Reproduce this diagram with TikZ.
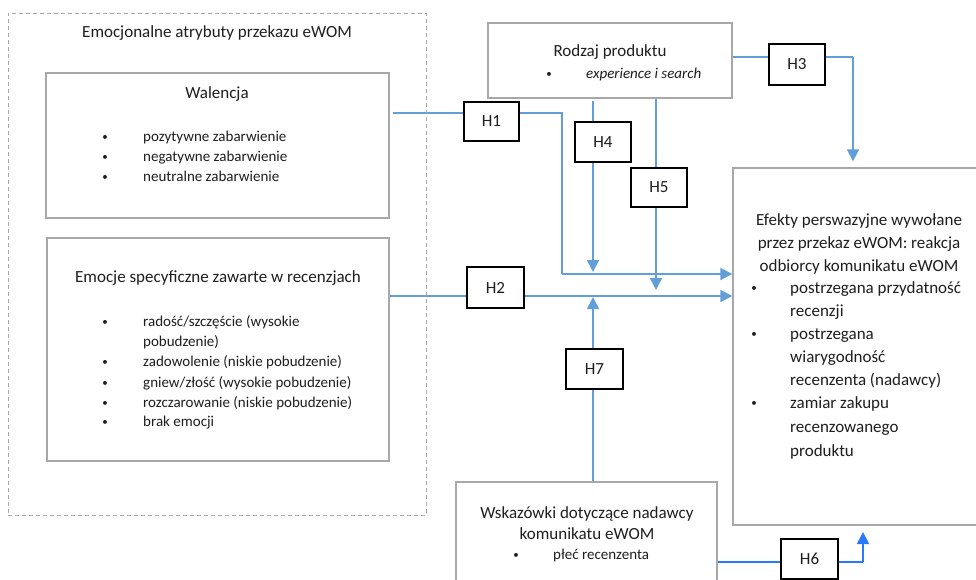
\documentclass[tikz,border=0pt]{standalone}
\usepackage{fontspec}
\setmainfont{Carlito}
\usetikzlibrary{arrows.meta,backgrounds,calc}
\definecolor{lblue}{RGB}{98,158,218}
\definecolor{dblue}{RGB}{41,121,255}
\definecolor{boxgray}{RGB}{168,168,168}
\definecolor{txt}{RGB}{30,30,30}
\begin{document}
\begin{tikzpicture}[x=1pt,y=-1pt,
  frame/.style={draw=boxgray,line width=1.3pt,fill=white,inner sep=0pt,minimum width=#1},
  hbox/.style={draw=black,line width=1.4pt,fill=white,inner sep=0pt,minimum width=56pt,minimum height=40pt,font=\fontsize{17}{20}\selectfont,text=txt},
  ttl/.style={inner sep=0pt,font=\fontsize{17}{23}\selectfont,text=txt,text height=12pt,text depth=3.5pt},
  itm/.style={inner sep=0pt,anchor=west,font=\fontsize{15}{20}\selectfont,text=txt,text height=10.5pt,text depth=3pt},
  eitm/.style={inner sep=0pt,anchor=west,font=\fontsize{17}{23}\selectfont,text=txt,text height=12pt,text depth=3.5pt},
  dot/.style={inner sep=0pt,font=\fontsize{11}{11}\selectfont,text=txt},
  conn/.style={draw=lblue,line width=1.6pt},
  tip/.style={-{Triangle[width=12pt,length=12pt]}},
]
\useasboundingbox (0,0) rectangle (976,579);

% outer dashed group
\node[draw=boxgray,line width=1pt,dash pattern=on 4pt off 3pt,inner sep=0pt,
      minimum width=418pt,minimum height=502pt] (outer) at (217,264) {};
\node[ttl] (outert) at (217,33) {Emocjonalne atrybuty przekazu eWOM};

% Walencja
\node[frame=343pt,minimum height=145pt] (walencja) at (217.5,145.5) {};
\node[ttl] (walt) at (217,94) {Walencja};
\node[dot] (wb1) at (105,138) {•};
\node[itm] (wi1) at (143,138) {pozytywne zabarwienie};
\node[dot] (wb2) at (105,158) {•};
\node[itm] (wi2) at (143,158) {negatywne zabarwienie};
\node[dot] (wb3) at (105,178) {•};
\node[itm] (wi3) at (143,178) {neutralne zabarwienie};

% Emocje
\node[frame=342pt,minimum height=223pt] (emocje) at (218,349.5) {};
\node[ttl] (emt) at (218,278) {Emocje specyficzne zawarte w recenzjach};
\node[dot] (eb1) at (105,323) {•};
\node[itm] (ei1) at (143,323) {radość/szczęście (wysokie};
\node[itm] (ei1b) at (143,343) {pobudzenie)};
\node[dot] (eb2) at (105,363) {•};
\node[itm] (ei2) at (143,363) {zadowolenie (niskie pobudzenie)};
\node[dot] (eb3) at (105,384) {•};
\node[itm] (ei3) at (143,384) {gniew/złość (wysokie pobudzenie)};
\node[dot] (eb4) at (105,404) {•};
\node[itm] (ei4) at (143,404) {rozczarowanie (niskie pobudzenie)};
\node[dot] (eb5) at (105,423) {•};
\node[itm] (ei5) at (143,423) {brak emocji};

% Rodzaj produktu
\node[frame=244pt,minimum height=75pt] (rodzaj) at (610,60.5) {};
\node[ttl] (rodt) at (610,52) {Rodzaj produktu};
\node[dot] (rb1) at (549,75) {•};
\node[itm] (ri1) at (586,75) {\itshape experience i search};

% Efekty
\node[frame=260pt,minimum height=357pt] (efekty) at (863,346.5) {};
\node[ttl] (eft1) at (859,221) {Efekty perswazyjne wywołane};
\node[ttl] (eft2) at (859,244) {przez przekaz eWOM: reakcja};
\node[ttl] (eft3) at (859,267) {odbiorcy komunikatu eWOM};
\node[dot] (fb1) at (754,289) {•};
\node[eitm] (fi1) at (790,289) {postrzegana przydatność};
\node[eitm] (fi1b) at (790,312) {recenzji};
\node[dot] (fb2) at (754,335) {•};
\node[eitm] (fi2) at (790,335) {postrzegana};
\node[eitm] (fi2b) at (790,358) {wiarygodność};
\node[eitm] (fi2c) at (790,381) {recenzenta (nadawcy)};
\node[dot] (fb3) at (754,404) {•};
\node[eitm] (fi3) at (790,404) {zamiar zakupu};
\node[eitm] (fi3b) at (790,428) {recenzowanego};
\node[eitm] (fi3c) at (790,452) {produktu};

% Wskazowki
\node[frame=261pt,minimum height=130pt] (wsk) at (586.5,547) {};
\node[ttl] (wskt1) at (587,514) {Wskazówki dotyczące nadawcy};
\node[ttl] (wskt2) at (587,535) {komunikatu eWOM};
\node[dot] (kb1) at (516,556) {•};
\node[itm] (ki1) at (553,556) {płeć recenzenta};

% hypothesis boxes
\node[hbox,minimum width=55pt,minimum height=39pt] (h1) at (491.5,121.5) {H1};
\node[hbox,minimum width=57pt,minimum height=41pt] (h2) at (495.5,287.5) {H2};
\node[hbox,minimum height=41pt] (h3) at (797,64.5) {H3};
\node[hbox] (h4) at (603,142) {H4};
\node[hbox,minimum height=39pt] (h5) at (659,187.5) {H5};
\node[hbox,minimum width=57pt] (h7) at (594.5,369) {H7};
\node[hbox,minimum width=57pt] (h6) at (809.5,559) {H6};

% connectors
\coordinate (h1s) at ([xshift=3pt,yshift=32.5pt]walencja.east);
\coordinate (h1c) at (562,274);
\coordinate (h2y) at (0,296);
\coordinate (h3y) at (0,57);
\coordinate (h3c) at (853,57);
\coordinate (h4x) at (593,0);
\coordinate (h4e) at (593,272);
\coordinate (h5x) at (656,0);
\coordinate (h5e) at (656,290);
\coordinate (h7e) at (593,297);
\coordinate (h6y) at (0,562);
\coordinate (h6c) at (863,562);
\coordinate (h6e) at (863,532);
\begin{pgfonlayer}{background}
\draw[conn] (h1s) -| (h1c);
\draw[conn,tip] (h1c) -- (efekty.west |- h1c);
\draw[conn,tip] (emocje.east |- h2y) -- (efekty.west |- h2y);
\draw[conn] (rodzaj.east |- h3y) -- (h3c);
\draw[conn,tip] (h3c) -- ([yshift=6pt]efekty.north -| h3c);
\draw[conn,tip] ([yshift=-2pt]rodzaj.south -| h4x) -- (h4e);
\draw[conn,tip] (rodzaj.south -| h5x) -- (h5e);
\draw[conn,tip] (wsk.north -| h7e) -- (h7e);
\draw[draw=dblue,line width=1.8pt] (wsk.east |- h6y) -- (h6c);
\draw[draw=dblue,line width=1.8pt,tip] (h6c) -- (h6e);
\end{pgfonlayer}
\end{tikzpicture}
\end{document}
